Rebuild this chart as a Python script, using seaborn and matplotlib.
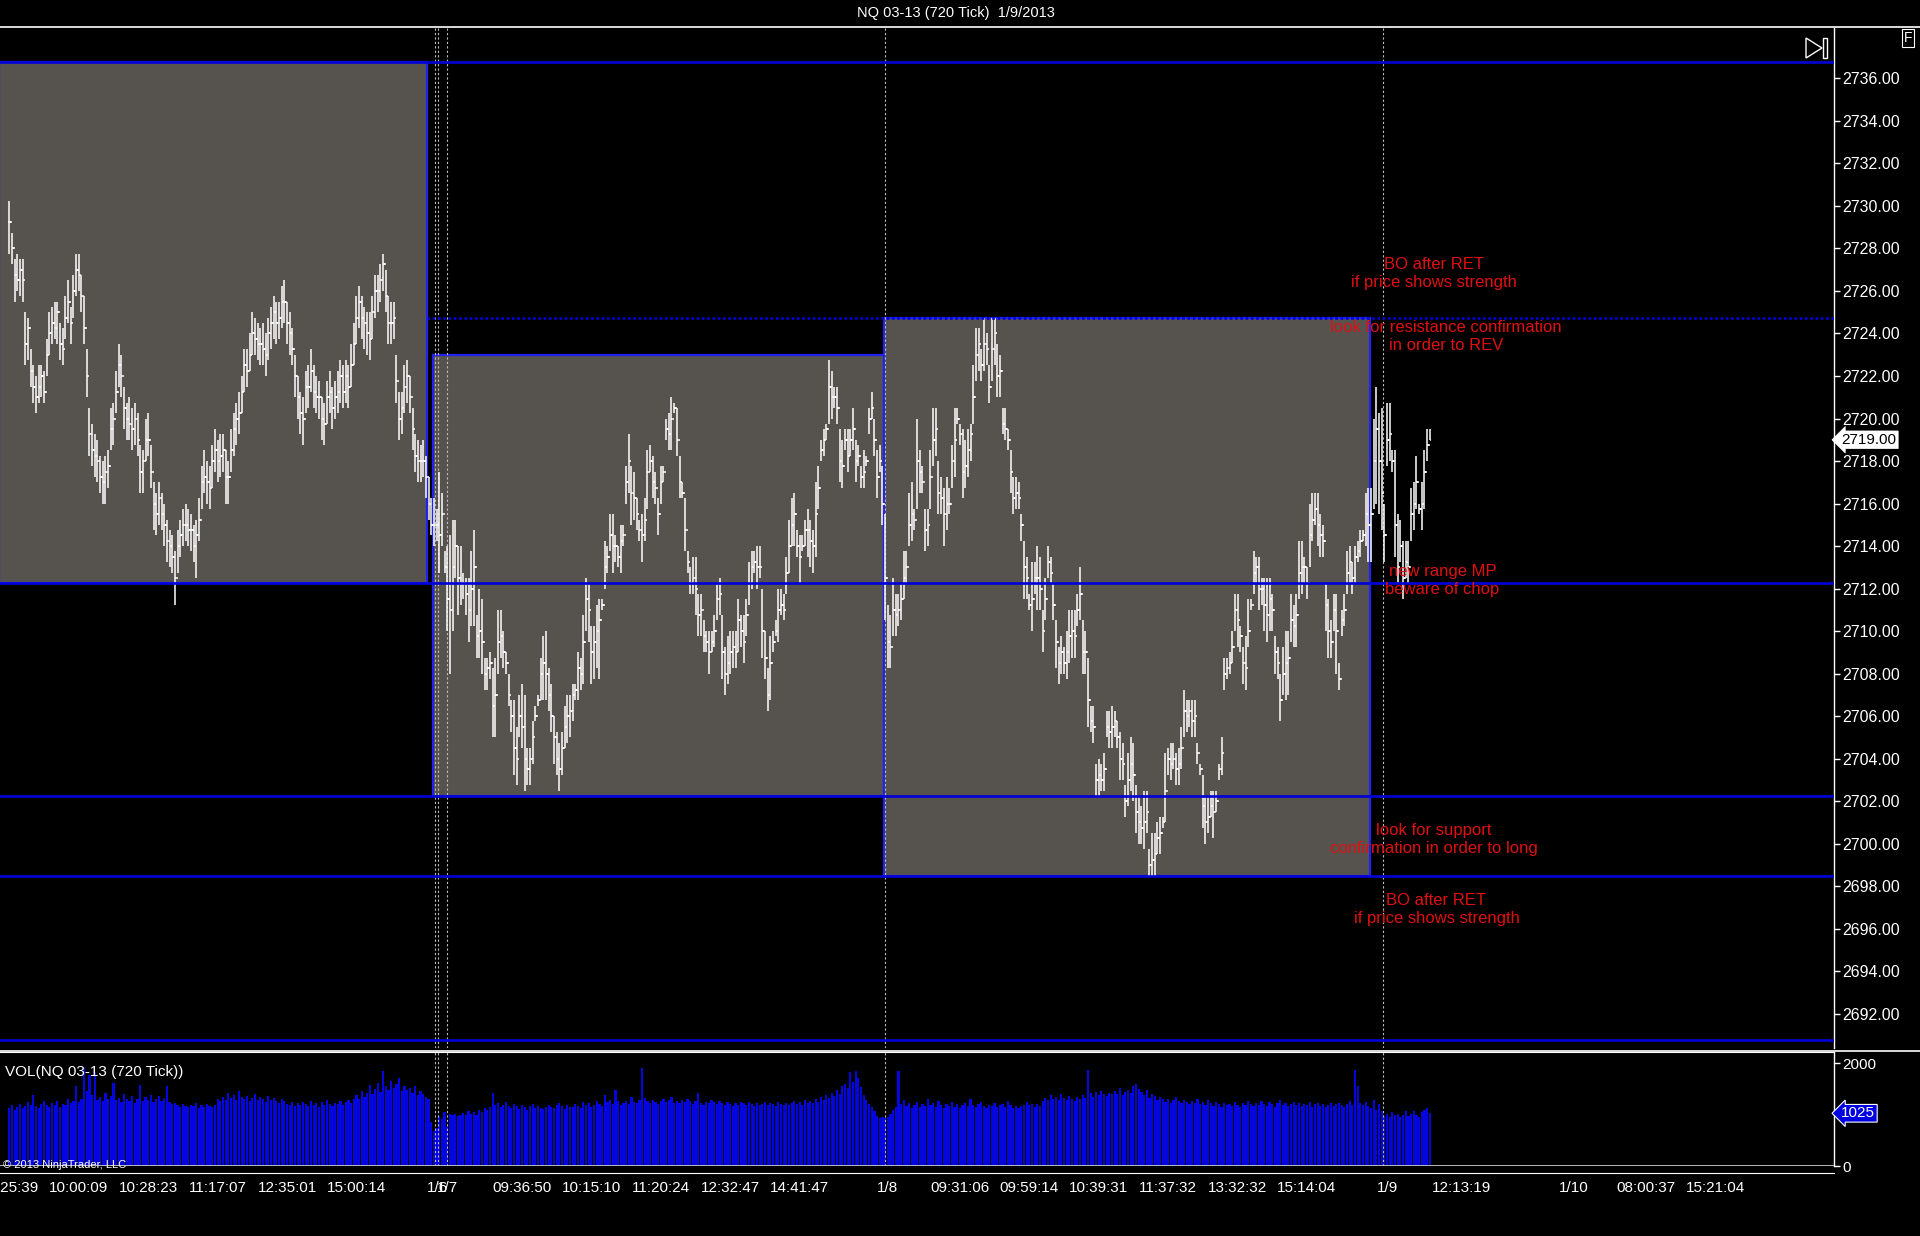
import numpy as np
import pandas as pd
import matplotlib
matplotlib.use('Agg')
import matplotlib.pyplot as plt
import matplotlib.transforms as mtransforms
from matplotlib.lines import Line2D
from matplotlib.patches import Rectangle, Polygon
import seaborn as sns

# ---- bar data (NQ 03-13, 720 tick bars), one list per trading day ----
day1_high = [
    2730.25, 2728.75, 2727.5, 2727.75, 2727.5, 2727.5, 2725.0, 2724.75, 2723.25, 2722.5,
    2722.0, 2722.5, 2722.5, 2722.25, 2723.75, 2725.0, 2725.25, 2725.5, 2725.5, 2724.5,
    2724.25, 2725.75, 2726.5, 2725.25, 2726.75, 2727.75, 2727.75, 2726.75, 2725.75, 2723.25,
    2720.5, 2719.75, 2719.25, 2719.0, 2718.25, 2718.0, 2718.25, 2718.5, 2720.5, 2720.75,
    2722.25, 2723.5, 2723.0, 2721.5, 2720.75, 2721.0, 2720.5, 2720.75, 2720.25, 2718.75,
    2718.5, 2720.0, 2720.25, 2718.75, 2717.0, 2716.5, 2717.0, 2716.5, 2716.0, 2715.25,
    2714.75, 2714.5, 2713.75, 2714.75, 2715.25, 2715.75, 2716.0, 2715.75, 2715.5, 2715.0,
    2715.25, 2716.25, 2717.75, 2718.5, 2718.0, 2717.75, 2718.75, 2719.5, 2719.0, 2719.25,
    2719.25, 2718.5, 2718.0, 2719.5, 2720.25, 2720.75, 2721.25, 2722.0, 2723.25, 2723.25,
    2724.0, 2725.0, 2724.75, 2724.5, 2724.25, 2724.5, 2724.0, 2724.75, 2725.25, 2725.75,
    2725.5, 2725.5, 2726.25, 2726.5, 2725.5, 2725.0, 2724.25, 2723.0, 2722.0, 2721.25,
    2721.0, 2722.25, 2722.5, 2723.25, 2722.5, 2722.0, 2721.75, 2721.0, 2720.75, 2721.75,
    2722.25, 2721.5, 2721.75, 2722.25, 2722.75, 2722.5, 2722.75, 2722.5, 2723.5, 2724.5,
    2725.75, 2726.25, 2725.75, 2725.25, 2725.0, 2725.0, 2725.75, 2726.75, 2726.75, 2727.25,
    2727.75, 2727.0, 2725.75, 2725.5, 2725.5, 2723.0, 2721.25, 2721.25, 2722.5, 2722.75,
    2722.0, 2720.5, 2719.25, 2719.0, 2718.75, 2719.0, 2718.25, 2717.25, 2716.25]
day1_low = [
    2727.75, 2727.25, 2725.5, 2726.0, 2725.75, 2725.5, 2722.5, 2722.75, 2721.5, 2720.75,
    2720.25, 2720.75, 2721.0, 2720.75, 2722.0, 2723.0, 2723.5, 2723.75, 2723.5, 2722.75,
    2722.5, 2723.75, 2724.5, 2723.5, 2724.75, 2725.75, 2726.0, 2725.0, 2723.5, 2721.0,
    2718.25, 2717.75, 2717.25, 2717.0, 2716.5, 2716.0, 2716.0, 2716.75, 2718.5, 2718.75,
    2720.25, 2721.5, 2721.0, 2719.5, 2719.0, 2719.0, 2718.5, 2718.75, 2718.25, 2716.5,
    2716.5, 2718.0, 2718.25, 2716.75, 2714.75, 2714.5, 2715.0, 2714.75, 2714.0, 2713.25,
    2713.0, 2712.75, 2711.25, 2712.75, 2713.5, 2714.0, 2714.25, 2714.0, 2713.75, 2713.25,
    2712.5, 2714.25, 2715.75, 2716.5, 2716.0, 2715.75, 2716.75, 2717.5, 2717.0, 2717.25,
    2717.5, 2716.0, 2716.0, 2717.5, 2718.25, 2718.75, 2719.25, 2720.25, 2721.25, 2721.5,
    2722.25, 2723.0, 2723.0, 2722.75, 2722.5, 2722.5, 2722.0, 2722.75, 2723.25, 2723.75,
    2723.5, 2723.75, 2724.25, 2724.5, 2723.5, 2723.0, 2722.5, 2721.0, 2720.0, 2719.25,
    2718.75, 2720.25, 2720.5, 2721.25, 2720.5, 2720.25, 2720.0, 2719.0, 2718.75, 2719.75,
    2720.25, 2719.5, 2720.0, 2720.25, 2720.75, 2720.5, 2720.75, 2720.5, 2721.5, 2722.5,
    2723.5, 2724.25, 2723.75, 2723.25, 2723.0, 2722.75, 2723.75, 2724.75, 2725.0, 2725.5,
    2726.0, 2725.0, 2723.5, 2723.5, 2723.75, 2720.75, 2719.0, 2719.25, 2720.25, 2720.75,
    2720.25, 2718.5, 2717.5, 2717.0, 2717.0, 2717.25, 2716.25, 2715.25, 2714.5]
day1_close = [
    2729.25, 2728.0, 2726.75, 2726.5, 2727.0, 2726.5, 2723.5, 2724.25, 2722.25, 2721.5,
    2721.0, 2721.5, 2722.0, 2721.25, 2723.0, 2724.0, 2724.5, 2724.25, 2725.0, 2723.5,
    2723.25, 2724.75, 2725.5, 2724.5, 2726.0, 2727.0, 2726.75, 2725.75, 2724.25, 2722.0,
    2719.25, 2718.5, 2718.25, 2718.0, 2717.25, 2717.0, 2717.5, 2717.75, 2719.5, 2720.0,
    2721.25, 2722.5, 2722.0, 2720.5, 2720.0, 2719.75, 2719.5, 2720.0, 2719.0, 2717.5,
    2718.0, 2719.0, 2719.0, 2717.5, 2716.0, 2715.5, 2716.25, 2715.5, 2715.0, 2714.25,
    2714.0, 2713.5, 2712.5, 2714.0, 2714.5, 2715.0, 2715.0, 2714.75, 2714.75, 2714.0,
    2714.5, 2715.25, 2717.0, 2717.25, 2717.0, 2716.75, 2718.0, 2718.5, 2718.0, 2718.25,
    2718.5, 2717.25, 2717.25, 2718.5, 2719.5, 2720.0, 2720.25, 2721.25, 2722.5, 2722.25,
    2723.0, 2724.0, 2723.75, 2723.5, 2723.5, 2723.25, 2723.0, 2724.0, 2724.5, 2725.0,
    2724.5, 2724.75, 2725.5, 2725.5, 2724.5, 2724.0, 2723.25, 2722.0, 2721.0, 2720.25,
    2720.0, 2721.5, 2721.5, 2722.25, 2721.25, 2721.0, 2721.0, 2720.0, 2719.75, 2721.0,
    2721.25, 2720.5, 2721.0, 2721.25, 2722.0, 2721.25, 2722.0, 2721.5, 2722.5, 2723.5,
    2724.75, 2725.5, 2724.75, 2724.5, 2724.0, 2723.75, 2725.0, 2726.0, 2726.0, 2726.5,
    2727.25, 2725.75, 2724.5, 2724.5, 2724.75, 2721.75, 2720.0, 2720.5, 2721.5, 2722.0,
    2721.0, 2719.5, 2718.25, 2718.0, 2718.0, 2718.0, 2717.25, 2716.0, 2715.0]

day2_high = [
    2716.25, 2715.75, 2717.5, 2716.5, 2713.75, 2714.0, 2714.5, 2715.25, 2715.25, 2714.0,
    2714.0, 2712.75, 2712.5, 2712.5, 2713.75, 2714.75, 2710.75, 2712.0, 2711.5, 2708.75,
    2708.75, 2709.0, 2708.25, 2708.75, 2711.0, 2711.0, 2710.0, 2709.0, 2708.0, 2706.75,
    2706.75, 2705.5, 2707.0, 2707.5, 2707.0, 2704.5, 2704.5, 2705.75, 2706.5, 2707.0,
    2708.75, 2709.75, 2710.0, 2708.25, 2707.5, 2706.0, 2705.25, 2704.75, 2705.25, 2706.5,
    2707.0, 2707.0, 2707.5, 2707.5, 2709.0, 2708.75, 2710.75, 2712.5, 2712.25, 2710.25,
    2710.25, 2711.25, 2711.5, 2711.5, 2714.25, 2714.0, 2715.5, 2715.5, 2714.5, 2714.0,
    2715.0, 2715.0, 2717.75, 2719.25, 2717.75, 2717.5, 2716.25, 2715.25, 2715.5, 2716.25,
    2718.5, 2718.75, 2718.25, 2717.5, 2716.25, 2717.75, 2717.75, 2720.0, 2720.25, 2721.0,
    2720.75, 2720.5, 2718.25, 2717.0, 2716.25, 2713.75, 2713.0, 2713.5, 2713.5, 2711.75,
    2711.75, 2710.5, 2710.0, 2710.0, 2710.0, 2710.75, 2712.25, 2712.5, 2710.75, 2709.25,
    2709.75, 2710.0, 2710.0, 2710.0, 2711.5, 2710.75, 2710.75, 2711.5, 2713.25, 2713.75,
    2713.75, 2714.0, 2714.0, 2712.0, 2710.0, 2708.25, 2709.75, 2710.0, 2710.5, 2712.0,
    2712.0, 2711.75, 2713.5, 2715.25, 2716.25, 2716.5, 2714.75, 2714.5, 2714.5, 2715.25,
    2715.75, 2715.25, 2714.75, 2717.0, 2717.75, 2719.0, 2719.5, 2719.75, 2722.75, 2722.25,
    2721.5, 2721.5, 2719.5, 2719.0, 2719.5, 2719.5, 2719.5, 2720.5, 2719.0, 2718.75,
    2717.75, 2718.5, 2718.25, 2720.5, 2721.25, 2720.0, 2718.5, 2718.75, 2717.75]
day2_low = [
    2714.0, 2714.25, 2712.75, 2714.0, 2712.75, 2710.0, 2708.0, 2710.0, 2712.5, 2710.75,
    2711.25, 2711.5, 2710.75, 2709.5, 2710.25, 2710.25, 2708.75, 2708.75, 2708.0, 2707.25,
    2707.25, 2707.75, 2705.0, 2705.0, 2708.0, 2708.75, 2708.25, 2708.0, 2706.5, 2705.25,
    2703.25, 2702.75, 2705.0, 2704.5, 2702.5, 2702.75, 2702.75, 2703.75, 2705.75, 2706.5,
    2706.75, 2706.75, 2706.75, 2706.25, 2705.25, 2703.75, 2703.25, 2702.5, 2703.25, 2704.5,
    2704.75, 2705.0, 2705.75, 2706.75, 2706.75, 2707.25, 2707.5, 2710.0, 2709.5, 2707.5,
    2707.75, 2708.25, 2707.75, 2711.0, 2712.0, 2712.75, 2713.75, 2712.75, 2713.25, 2713.0,
    2712.75, 2714.0, 2716.0, 2716.5, 2715.0, 2715.25, 2714.75, 2714.25, 2713.25, 2714.25,
    2715.75, 2717.5, 2716.25, 2716.0, 2714.5, 2716.0, 2717.0, 2719.0, 2718.5, 2718.5,
    2720.25, 2718.25, 2716.25, 2716.25, 2713.75, 2712.75, 2711.75, 2711.75, 2710.75, 2709.75,
    2709.75, 2709.0, 2709.0, 2708.0, 2709.0, 2709.25, 2710.5, 2710.75, 2707.75, 2707.0,
    2707.5, 2708.0, 2708.25, 2708.25, 2709.0, 2709.25, 2708.5, 2709.75, 2711.25, 2712.0,
    2712.75, 2712.0, 2712.5, 2708.75, 2707.75, 2706.25, 2706.75, 2709.0, 2709.75, 2709.5,
    2710.75, 2710.5, 2711.75, 2712.75, 2714.0, 2714.0, 2713.5, 2712.25, 2713.75, 2714.0,
    2713.5, 2713.0, 2712.75, 2713.5, 2715.75, 2718.0, 2718.25, 2719.0, 2719.75, 2720.0,
    2720.5, 2719.75, 2717.0, 2716.75, 2718.5, 2717.5, 2718.25, 2718.5, 2717.0, 2717.75,
    2716.75, 2716.75, 2717.75, 2719.25, 2720.0, 2718.25, 2716.25, 2717.5, 2715.0]
day2_close = [
    2715.0, 2715.0, 2714.5, 2715.5, 2713.0, 2711.5, 2711.0, 2713.0, 2714.0, 2712.5,
    2712.25, 2712.25, 2711.75, 2711.0, 2712.0, 2713.0, 2709.75, 2710.0, 2709.5, 2708.0,
    2708.25, 2708.5, 2706.5, 2707.0, 2709.5, 2709.75, 2709.0, 2708.5, 2707.0, 2706.0,
    2704.5, 2704.0, 2706.0, 2705.5, 2704.0, 2703.5, 2704.0, 2705.0, 2706.0, 2706.75,
    2708.0, 2708.5, 2708.0, 2707.0, 2706.0, 2705.0, 2704.0, 2703.5, 2704.5, 2705.5,
    2706.0, 2706.25, 2707.0, 2707.25, 2708.25, 2708.0, 2709.5, 2711.5, 2711.0, 2709.0,
    2709.5, 2710.0, 2710.5, 2711.25, 2713.0, 2713.5, 2714.5, 2714.0, 2714.0, 2713.5,
    2714.25, 2714.5, 2717.0, 2718.0, 2716.5, 2716.25, 2715.5, 2714.75, 2714.5, 2715.25,
    2717.5, 2718.0, 2717.0, 2716.75, 2715.5, 2717.0, 2717.5, 2719.5, 2719.25, 2720.0,
    2720.5, 2719.0, 2717.0, 2716.5, 2714.75, 2713.25, 2712.25, 2712.5, 2712.0, 2710.75,
    2711.0, 2709.75, 2709.5, 2709.0, 2709.5, 2710.0, 2711.5, 2711.75, 2709.0, 2708.0,
    2708.5, 2709.0, 2709.25, 2709.0, 2710.5, 2710.0, 2709.5, 2710.75, 2712.25, 2713.0,
    2713.25, 2713.0, 2713.0, 2710.0, 2708.75, 2707.0, 2708.5, 2709.5, 2710.0, 2711.0,
    2711.25, 2711.0, 2712.75, 2714.0, 2715.0, 2715.5, 2714.0, 2713.5, 2714.0, 2714.75,
    2714.75, 2714.25, 2714.0, 2715.5, 2716.75, 2718.5, 2719.0, 2719.5, 2721.5, 2721.0,
    2721.0, 2720.5, 2718.0, 2717.75, 2719.0, 2718.25, 2719.0, 2719.5, 2718.0, 2718.25,
    2717.25, 2717.5, 2718.0, 2720.0, 2720.5, 2719.0, 2717.25, 2718.0, 2716.0]

day3_high = [
    2715.5, 2711.25, 2710.75, 2712.5, 2711.75, 2711.75, 2712.25, 2713.75, 2713.75, 2716.5,
    2717.0, 2715.75, 2720.0, 2718.5, 2717.75, 2715.75, 2715.75, 2718.5, 2720.5, 2720.5,
    2718.0, 2717.25, 2716.75, 2717.25, 2716.75, 2718.75, 2720.5, 2720.5, 2719.75, 2719.5,
    2719.0, 2719.5, 2719.75, 2722.5, 2724.25, 2724.25, 2723.25, 2724.75, 2724.0, 2722.5,
    2724.75, 2724.75, 2723.5, 2723.0, 2720.5, 2720.5, 2719.5, 2718.5, 2717.25, 2717.25,
    2717.0, 2715.5, 2714.25, 2713.5, 2711.75, 2713.25, 2713.25, 2714.0, 2713.5, 2711.0,
    2712.5, 2714.0, 2713.5, 2712.25, 2710.5, 2709.25, 2709.75, 2709.25, 2710.0, 2711.0,
    2711.0, 2711.0, 2711.75, 2713.0, 2710.5, 2710.0, 2708.75, 2706.5, 2706.5, 2703.75,
    2704.0, 2703.75, 2704.25, 2706.25, 2706.25, 2706.5, 2706.25, 2705.75, 2705.25, 2704.75,
    2702.75, 2704.25, 2705.0, 2704.75, 2702.75, 2702.25, 2701.75, 2702.5, 2702.5, 2699.75,
    2700.5, 2700.5, 2701.0, 2701.25, 2701.25, 2704.25, 2704.5, 2704.75, 2704.75, 2704.25,
    2704.5, 2705.5, 2707.25, 2706.75, 2706.75, 2706.75, 2706.75, 2704.75, 2703.75, 2703.25,
    2702.25, 2702.25, 2702.5, 2702.5, 2702.5, 2703.75, 2705.0, 2708.75, 2708.75, 2709.0,
    2710.0, 2711.75, 2711.75, 2710.25, 2709.25, 2709.75, 2711.5, 2711.5, 2713.75, 2713.5,
    2713.5, 2712.5, 2712.5, 2712.5, 2712.5, 2711.75, 2709.75, 2709.25, 2708.0, 2709.25,
    2710.0, 2710.0, 2711.75, 2711.25, 2711.75, 2714.25, 2714.25, 2713.5, 2713.0, 2716.0,
    2716.5, 2716.5, 2716.5, 2715.5, 2715.0, 2712.25, 2711.5, 2710.5, 2711.75, 2711.75,
    2708.5, 2711.0, 2711.75, 2713.75, 2714.0, 2713.25, 2714.0, 2714.25, 2714.75, 2714.75,
    2716.5, 2716.75]
day3_low = [
    2710.5, 2708.25, 2708.25, 2709.75, 2709.75, 2710.25, 2710.5, 2711.5, 2712.25, 2714.0,
    2714.25, 2714.75, 2715.75, 2716.5, 2716.5, 2713.75, 2714.0, 2715.75, 2717.75, 2718.25,
    2715.5, 2715.5, 2714.0, 2714.75, 2715.5, 2716.75, 2717.25, 2719.75, 2718.75, 2716.25,
    2716.75, 2717.25, 2718.0, 2719.75, 2721.75, 2722.25, 2721.75, 2722.25, 2722.5, 2720.75,
    2721.75, 2722.5, 2721.0, 2721.0, 2719.25, 2719.0, 2718.5, 2716.5, 2715.5, 2715.75,
    2715.75, 2714.25, 2711.5, 2711.5, 2711.0, 2710.0, 2711.75, 2711.0, 2711.0, 2709.0,
    2710.5, 2712.5, 2712.25, 2710.5, 2708.25, 2707.5, 2708.0, 2708.0, 2707.75, 2708.5,
    2708.75, 2708.75, 2710.25, 2710.5, 2708.0, 2708.0, 2705.5, 2705.25, 2704.75, 2702.25,
    2702.25, 2702.5, 2702.5, 2705.0, 2704.5, 2704.5, 2705.0, 2704.5, 2703.0, 2703.0,
    2701.25, 2701.75, 2702.5, 2702.0, 2700.5, 2700.0, 2700.0, 2699.75, 2700.5, 2698.5,
    2698.5, 2698.5, 2699.5, 2699.5, 2700.75, 2701.0, 2703.25, 2703.0, 2703.5, 2702.75,
    2702.75, 2703.5, 2705.0, 2705.25, 2705.5, 2705.0, 2705.0, 2703.75, 2703.25, 2700.75,
    2700.0, 2700.5, 2701.25, 2700.25, 2701.5, 2703.0, 2703.25, 2707.25, 2707.75, 2708.0,
    2708.5, 2710.0, 2709.25, 2709.0, 2707.5, 2707.25, 2709.25, 2711.0, 2711.75, 2712.25,
    2711.0, 2711.25, 2710.0, 2709.5, 2710.0, 2710.0, 2708.0, 2707.75, 2705.75, 2707.0,
    2706.75, 2707.0, 2709.5, 2709.25, 2709.25, 2711.5, 2711.75, 2712.25, 2711.5, 2713.0,
    2714.25, 2715.0, 2714.0, 2713.5, 2713.5, 2710.0, 2708.75, 2708.75, 2710.0, 2708.0,
    2707.25, 2709.75, 2710.25, 2711.75, 2712.25, 2711.75, 2712.25, 2713.25, 2713.5, 2714.25,
    2714.0, 2713.25]
day3_close = [
    2712.5, 2709.5, 2709.25, 2711.0, 2710.75, 2711.0, 2711.5, 2712.5, 2713.0, 2715.0,
    2715.5, 2715.25, 2718.0, 2717.5, 2717.0, 2714.75, 2715.0, 2717.25, 2719.0, 2719.5,
    2716.5, 2716.25, 2715.5, 2716.0, 2716.0, 2718.0, 2719.0, 2720.0, 2719.25, 2717.5,
    2717.75, 2718.5, 2719.25, 2721.0, 2723.0, 2723.5, 2722.5, 2723.5, 2723.25, 2721.5,
    2723.25, 2724.0, 2722.0, 2722.25, 2719.75, 2719.5, 2719.0, 2717.5, 2716.25, 2716.5,
    2716.25, 2715.0, 2713.0, 2712.5, 2711.25, 2711.5, 2712.5, 2712.5, 2712.0, 2710.0,
    2711.5, 2713.25, 2712.75, 2711.25, 2709.5, 2708.5, 2709.0, 2708.5, 2709.0, 2709.75,
    2710.0, 2709.75, 2711.0, 2711.75, 2709.0, 2709.0, 2706.75, 2705.75, 2705.5, 2703.0,
    2703.25, 2703.0, 2703.5, 2705.5, 2705.25, 2705.5, 2705.75, 2705.0, 2704.0, 2703.75,
    2702.0, 2703.0, 2703.75, 2703.25, 2701.5, 2701.0, 2700.75, 2701.0, 2701.5, 2699.0,
    2699.25, 2699.5, 2700.25, 2700.5, 2701.0, 2702.5, 2704.0, 2703.75, 2704.0, 2703.5,
    2703.75, 2704.5, 2706.25, 2706.0, 2706.25, 2705.75, 2706.0, 2704.25, 2703.5, 2701.75,
    2701.0, 2701.25, 2701.75, 2701.5, 2702.0, 2703.5, 2704.25, 2708.0, 2708.25, 2708.5,
    2709.25, 2711.0, 2710.5, 2709.75, 2708.5, 2708.25, 2710.0, 2711.25, 2712.75, 2713.0,
    2712.0, 2712.0, 2711.25, 2710.75, 2711.5, 2711.0, 2709.0, 2708.5, 2706.75, 2708.0,
    2708.5, 2708.75, 2710.5, 2710.25, 2710.75, 2712.75, 2713.0, 2713.0, 2712.25, 2714.5,
    2715.25, 2715.75, 2715.0, 2714.5, 2714.25, 2711.25, 2710.0, 2709.5, 2711.0, 2710.0,
    2707.75, 2710.5, 2711.0, 2712.75, 2713.25, 2712.5, 2713.5, 2713.75, 2714.25, 2714.5,
    2715.5, 2715.0]

day4_high = [2716.75, 2720.0, 2721.5, 2720.25, 2720.5, 2716.0, 2720.75, 2720.75, 2718.5, 2718.5,
             2715.5, 2715.25, 2714.25, 2714.25, 2714.25, 2716.75, 2717.0, 2718.25, 2716.0, 2717.0,
             2718.5, 2719.5, 2719.5]
day4_low = [2713.25, 2715.75, 2716.0, 2715.5, 2714.75, 2713.25, 2717.75, 2718.0, 2717.5, 2713.5,
            2712.25, 2713.25, 2711.5, 2712.5, 2712.25, 2714.25, 2714.75, 2715.75, 2715.5, 2714.75,
            2715.75, 2718.0, 2719.0]
day4_close = [2715.5, 2718.0, 2719.5, 2718.0, 2716.5, 2714.5, 2719.0, 2719.25, 2718.0, 2715.0,
              2713.0, 2714.0, 2712.5, 2713.25, 2713.0, 2715.5, 2716.0, 2717.0, 2715.75, 2716.0,
              2717.5, 2718.75, 2719.0]

volume = [
    1120, 1180, 1090, 1150, 1210, 1130, 1170, 1240, 1190, 1380, 1160, 1120, 1200, 1260, 1180, 1140, 1230, 1190, 1270, 1150, 1210, 1180, 1300, 1220, 1260, 1560,
    1240, 1310, 1900, 1450, 1760, 1380, 1820, 1290, 1340, 1260, 1410, 1300, 1370, 1620, 1280, 1330, 1250, 1390, 1310, 1270, 1360, 1220, 1300, 1580, 1260, 1340,
    1290, 1380, 1240, 1310, 1360, 1270, 1330, 1560, 1250, 1200, 1230, 1180, 1150, 1210, 1170, 1140, 1190, 1160, 1220, 1130, 1180, 1150, 1200, 1170, 1140, 1190,
    1310, 1260, 1350, 1280, 1420, 1330, 1380, 1290, 1450, 1340, 1300, 1370, 1260, 1320, 1390, 1280, 1340, 1310, 1250, 1360, 1290, 1330, 1270, 1220, 1300, 1260,
    1210, 1180, 1240, 1160, 1230, 1190, 1250, 1200, 1170, 1260, 1180, 1220, 1150, 1240, 1190, 1280, 1210, 1170, 1230, 1200, 1260, 1180, 1240, 1290, 1220, 1310,
    1380, 1300, 1460, 1350, 1420, 1580, 1390, 1500, 1620, 1440, 1840, 1560, 1480, 1650, 1520, 1590, 1720, 1460, 1550, 1480, 1520, 1420, 1560, 1380, 1450, 1400,
    1350, 1300, 860, 680, 740, 980, 920, 1040, 760,
    1010, 990, 1020, 980, 1000, 1030, 990, 1060, 1010, 1040, 1000, 1080, 1050, 1120, 1090, 1150, 1420, 1180, 1220, 1140, 1190, 1250, 1170, 1130, 1200, 1160,
    1110, 1180, 1140, 1090, 1160, 1200, 1120, 1170, 1130, 1100, 1150, 1190, 1140, 1120, 1180, 1230, 1160, 1110, 1190, 1150, 1140, 1210, 1170, 1130, 1250, 1180,
    1220, 1150, 1190, 1260, 1200, 1160, 1380, 1240, 1290, 1210, 1480, 1260, 1190, 1230, 1270, 1200, 1340, 1250, 1220, 1280, 1910, 1320, 1270, 1230, 1290, 1250,
    1210, 1260, 1300, 1240, 1280, 1350, 1230, 1270, 1220, 1290, 1250, 1310, 1260, 1210, 1270, 1420, 1230, 1190, 1250, 1220, 1280, 1240, 1200, 1260, 1230, 1190,
    1240, 1210, 1170, 1230, 1190, 1250, 1220, 1180, 1240, 1200, 1160, 1230, 1190, 1210, 1250, 1180, 1220, 1200, 1170, 1240, 1210, 1190, 1230, 1180, 1220, 1260,
    1210, 1250, 1190, 1280, 1230, 1270, 1220, 1300, 1250, 1340, 1290, 1380, 1330, 1420, 1360, 1470, 1400, 1560, 1600, 1520, 1830, 1640, 1850, 1720, 1540, 1380,
    1290, 1210, 1150, 1060, 980, 940, 960,
    930, 960, 1010, 1080, 1150, 1850, 1200, 1280, 1160, 1230, 1120, 1190, 1250, 1140, 1210, 1170, 1300, 1180, 1220, 1150, 1260, 1190, 1130, 1210, 1170, 1240,
    1150, 1200, 1130, 1180, 1220, 1160, 1310, 1190, 1140, 1210, 1250, 1170, 1120, 1190, 1160, 1230, 1140, 1180, 1210, 1150, 1260, 1190, 1130, 1170, 1120, 1160,
    1190, 1240, 1180, 1210, 1150, 1200, 1170, 1260, 1320, 1290, 1380, 1300, 1350, 1280, 1400, 1320, 1290, 1360, 1310, 1270, 1340, 1300, 1380, 1330, 1860, 1420,
    1350, 1440, 1380, 1460, 1400, 1360, 1420, 1390, 1450, 1400, 1520, 1380, 1430, 1480, 1410, 1560, 1600, 1500, 1440, 1380, 1470, 1330, 1400, 1360, 1290, 1340,
    1300, 1250, 1310, 1230, 1280, 1340, 1260, 1220, 1290, 1240, 1200, 1270, 1230, 1300, 1210, 1250, 1190, 1280, 1220, 1160, 1240, 1200, 1150, 1230, 1180, 1210,
    1170, 1240, 1190, 1150, 1220, 1180, 1260, 1200, 1160, 1230, 1190, 1270, 1210, 1170, 1240, 1200, 1150, 1220, 1290, 1180, 1230, 1160, 1210, 1250, 1190, 1220,
    1160, 1210, 1180, 1240, 1150, 1200, 1230, 1170, 1210, 1140, 1190, 1220, 1160, 1200, 1230, 1180, 1150, 1210, 1260, 1190, 1860, 1560, 1230, 1180, 1250, 1170,
    1130, 1280, 1090, 1200, 1060, 980, 1010, 960, 1040, 990, 1020, 950, 1000, 1060, 980, 1020, 1070, 1000, 960, 1040, 1080, 1130, 1025]

# range boxes (first bar, last bar, top, bottom)
box_first = [-4, 158.5, 327.5]
box_last = [156.5, 327.5, 509.5]
box_top = [2736.75, 2723.0, 2724.75]
box_bottom = [2712.25, 2702.25, 2698.5]

# horizontal levels: price, first bar it is drawn from, style
levels = [2736.75, 2724.75, 2712.25, 2702.25, 2698.5, 2690.75]
level_start = [-4, 156.5, -4, -4, -4, -4]
level_style = ['-', ':', '-', '-', '-', '-']

# session / date separators (bar index)
session_marks = [159.5, 160.5, 164, 328, 514.6]

tick_bars = [0, 26, 52, 78, 104, 130, 155.5, 160.5, 164, 192, 218, 244, 270, 296, 322, 329,
             356, 382, 408, 434, 460, 486, 516, 544, 570, 586, 613, 639]
tick_labels = ['09:25:39', '10:00:09', '10:28:23', '11:17:07', '12:35:01', '15:00:14', '', '1/6', '1/7',
               '09:36:50', '10:15:10', '11:20:24', '12:32:47', '14:41:47', '', '1/8',
               '09:31:06', '09:59:14', '10:39:31', '11:37:32', '13:32:32', '15:14:04', '1/9',
               '12:13:19', '', '1/10', '08:00:37', '15:21:04']

notes = ['BO after RET\nif price shows strength',
         'look for resistance confirmation\nin order to REV',
         'new range MP\nbeware of chop',
         'look for support\nconfirmation in order to long',
         'BO after RET\nif price shows strength']
note_bar = [533.6, 538.0, 536.8, 533.6, 534.5]
note_price = [2726.8, 2723.85, 2712.4, 2700.2, 2696.9]

# ---- style ----
sns.set_style('dark')
plt.rcParams['font.family'] = ['Liberation Sans', 'DejaVu Sans']

W, H = 1920, 1236
XMAX = 683.4
fig = plt.figure(figsize=(W / 100, H / 100), dpi=100, facecolor='black')
ax = fig.add_axes([0, 1 - 1048 / H, 1834 / W, (1048 - 28) / H])
axv = fig.add_axes([0, 1 - 1166 / H, 1834 / W, (1166 - 1052) / H])
for a in (ax, axv):
    a.set_facecolor('black')
    a.grid(False)
    for s in a.spines.values():
        s.set_visible(False)
    a.spines['right'].set_visible(True)
    a.spines['right'].set_color('white')
    a.spines['right'].set_linewidth(1)
    a.set_xlim(-3.5, XMAX)

BLUE = '#0000D8'
EDGE = '#2222F0'
RED = '#E01010'

high = np.array(day1_high + day2_high + day3_high + day4_high)
low = np.array(day1_low + day2_low + day3_low + day4_low)
close = np.array(day1_close + day2_close + day3_close + day4_close)
opens = np.r_[close[0], close[:-1]]
x = np.arange(len(close))

# price panel
for b0, b1, top, bot in zip(box_first, box_last, box_top, box_bottom):
    ax.add_patch(Rectangle((b0, bot), b1 - b0, top - bot, facecolor='#56534F',
                           edgecolor=EDGE, linewidth=1.6, zorder=1))
for v in session_marks:
    ax.axvline(v, color='#BDBDBD', lw=0.8, ls=(0, (2, 2)), zorder=2)
    axv.axvline(v, color='#BDBDBD', lw=0.8, ls=(0, (2, 2)), zorder=3)
ax.vlines(x, low, high, color='white', lw=1.1, zorder=3)
ax.hlines(opens, x - 0.6, x, color='white', lw=1.1, zorder=3)
ax.hlines(close, x, x + 0.6, color='white', lw=1.1, zorder=3)
for lv, st0, st in zip(levels, level_start, level_style):
    ax.hlines(lv, st0, XMAX + 5, color=BLUE, lw=1.9,
              linestyles='solid' if st == '-' else (0, (1, 1)), zorder=4)

ax.set_ylim(2690.39, 2738.37)
ax.yaxis.tick_right()
ax.set_yticks(np.arange(2692, 2737, 2))
ax.set_yticklabels([f'{v:.2f}' for v in np.arange(2692, 2737, 2)])
ax.tick_params(axis='y', colors='white', labelsize=11.5, length=4, width=1, pad=2, direction='out')
ax.set_xticks([])

for t, xb, yp in zip(notes, note_bar, note_price):
    ax.text(xb, yp, t, color=RED, fontsize=12, ha='center', va='center',
            linespacing=1.25, zorder=6)

trans = mtransforms.blended_transform_factory(ax.transAxes, ax.transData)
ax.text(1.004, close[-1], f'{close[-1]:.2f}', transform=trans, ha='left', va='center',
        color='black', fontsize=11, clip_on=False, zorder=7,
        bbox=dict(boxstyle='larrow,pad=0.12', fc='white', ec='white', lw=0.5))

# volume panel
vol_df = pd.DataFrame({'bar': np.arange(len(volume)), 'volume': volume})
sns.barplot(data=vol_df, x='bar', y='volume', native_scale=True, color='#0505E0',
            saturation=1, width=0.82, errorbar=None, linewidth=0, ax=axv, zorder=2)
axv.set_xlim(-3.5, XMAX)
axv.set_ylim(0, 2216)
axv.set_xlabel('')
axv.set_ylabel('')
axv.axhline(0, color='#C8C8C8', lw=1.3, zorder=4)
axv.spines['top'].set_visible(True)
axv.spines['top'].set_color('white')
axv.spines['bottom'].set_visible(True)
axv.spines['bottom'].set_color('white')
axv.spines['bottom'].set_position(('outward', 4.7))
axv.yaxis.tick_right()
axv.set_yticks([0, 2000])
axv.set_yticklabels(['0', '2000'])
axv.tick_params(axis='y', colors='white', labelsize=11, length=4, width=1, pad=2)
axv.set_xticks(tick_bars)
axv.set_xticklabels(tick_labels)
axv.tick_params(axis='x', colors='white', labelsize=11, length=4.3, width=1, pad=2, direction='out')
vtrans = mtransforms.blended_transform_factory(axv.transAxes, axv.transData)
axv.text(1.004, volume[-1], str(volume[-1]), transform=vtrans, ha='left', va='center',
         color='white', fontsize=11, clip_on=False, zorder=7,
         bbox=dict(boxstyle='larrow,pad=0.12', fc='#0000E0', ec='white', lw=0.8))

# chrome
def fx(px):
    return px / W

def fy(py):
    return 1 - py / H

fig.text(fx(956), fy(13), 'NQ 03-13 (720 Tick)  1/9/2013', color='white', fontsize=10.5,
         ha='center', va='center')
fig.add_artist(Line2D([0, 1], [fy(27), fy(27)], color='white', lw=1.2))
fig.add_artist(Line2D([0, 1], [fy(1051), fy(1051)], color='white', lw=1.2))
fig.text(fx(5), fy(1072), 'VOL(NQ 03-13 (720 Tick))', color='white', fontsize=11,
         ha='left', va='center')
fig.text(fx(3), fy(1165), '\u00a9 2013 NinjaTrader, LLC', color='white', fontsize=8,
         ha='left', va='center')
fig.text(fx(1908), fy(38), 'F', color='white', fontsize=10, ha='center', va='center',
         bbox=dict(boxstyle='square,pad=0.15', fc='black', ec='white', lw=0.8))
fig.add_artist(Polygon([[fx(1806), fy(38)], [fx(1806), fy(58)], [fx(1822), fy(48)]],
                       closed=True, fill=False, edgecolor='white', lw=1.0))
fig.add_artist(Rectangle((fx(1823), fy(58)), fx(4), 20 / H, fill=False, edgecolor='white', lw=1.0))

fig.savefig('out.png', dpi=100, facecolor='black')
